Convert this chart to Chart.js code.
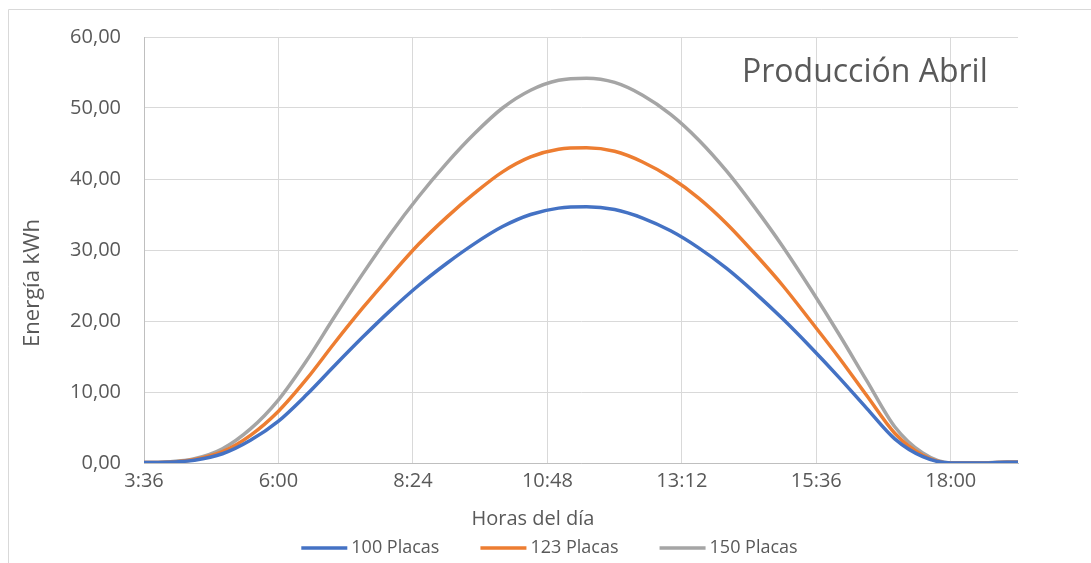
<!DOCTYPE html>
<html lang="es">
<head>
<meta charset="utf-8">
<title>Producción Abril</title>
<script src="https://cdn.jsdelivr.net/npm/chart.js@4.4.1/dist/chart.umd.min.js"></script>
<style>
    html, body { margin: 0; padding: 0; background: #ffffff; }
    #wrap { position: relative; width: 1091px; height: 563px; overflow: hidden; }
</style>
</head>
<body>
<div id="wrap"><canvas id="grafico" width="1091" height="563"></canvas></div>
<script>
// datos (energía kWh cada media hora)
const horas = ['3:00', '3:30', '4:00', '4:30', '5:00', '5:30', '6:00', '6:30', '7:00', '7:30',
    '8:00', '8:30', '9:00', '9:30', '10:00', '10:30', '11:00', '11:30', '12:00', '12:30',
    '13:00', '13:30', '14:00', '14:30', '15:00', '15:30', '16:00', '16:30', '17:00', '17:30',
    '18:00', '18:30', '19:00', '19:30', '20:00'];
const placas100 = [0, 0.05, 0.1, 0.4, 1.3, 3.2, 5.9, 9.6, 13.7, 17.7,
    21.5, 25.0, 28.1, 30.9, 33.3, 35.0, 35.9, 36.1, 35.7, 34.5,
    32.7, 30.3, 27.4, 24.0, 20.3, 16.3, 12.1, 7.7, 3.4, 0.9,
    0, 0, 0.1, 0.1, 0.1];
const placas123 = [0, 0.05, 0.1, 0.5, 1.6, 3.9, 7.3, 11.8, 16.9, 21.8,
    26.4, 30.8, 34.6, 38.0, 41.0, 43.1, 44.2, 44.4, 43.9, 42.4,
    40.2, 37.3, 33.7, 29.5, 25.0, 20.0, 14.9, 9.5, 4.2, 1.1,
    0, 0, 0.1, 0.1, 0.1];
const placas150 = [0, 0.05, 0.15, 0.6, 2.0, 4.8, 8.9, 14.4, 20.6, 26.6,
    32.3, 37.5, 42.2, 46.4, 50.0, 52.5, 53.9, 54.2, 53.6, 51.8,
    49.1, 45.5, 41.1, 36.0, 30.5, 24.5, 18.2, 11.6, 5.1, 1.4,
    0, 0, 0.15, 0.15, 0.15];
const etiquetasX = ['3:36', '6:00', '8:24', '10:48', '13:12', '15:36', '18:00'];
const limitesX = ['3:36', '19:12'];
const nombresSeries = ['100 Placas', '123 Placas', '150 Placas'];
const colores = ['#4472C4', '#ED7D31', '#A5A5A5'];

const FUENTE = "'Open Sans', 'Noto Sans', sans-serif";
const GRIS_TEXTO = '#595959';

// "h:mm" -> minutos
function aMinutos(txt) {
    const [h, m] = txt.split(':').map(Number);
    return h * 60 + m;
}
function aHora(min) {
    const h = Math.floor(min / 60);
    const m = Math.round(min % 60);
    return h + ':' + String(m).padStart(2, '0');
}

function puntos(valores) {
    return horas.map((h, i) => ({ x: aMinutos(h), y: valores[i] }));
}

// textos fijos: marco, título, títulos de ejes y leyenda
const decoracion = {
    id: 'decoracion',
    beforeDraw(chart) {
        const ctx = chart.ctx;
        ctx.save();
        ctx.strokeStyle = '#d9d9d9';
        ctx.lineWidth = 1;
        ctx.beginPath();
        ctx.moveTo(8.5, 600);
        ctx.lineTo(8.5, 9.5);
        ctx.lineTo(1200, 9.5);
        ctx.stroke();
        ctx.restore();
    },
    afterDraw(chart) {
        const ctx = chart.ctx;
        ctx.save();
        ctx.fillStyle = GRIS_TEXTO;

        // título dentro del área de trazado
        ctx.font = '32px ' + FUENTE;
        ctx.textAlign = 'left';
        ctx.textBaseline = 'alphabetic';
        ctx.fillText('Producción Abril', 742, 82);

        // título eje X
        ctx.font = '20px ' + FUENTE;
        ctx.textAlign = 'center';
        ctx.textBaseline = 'middle';
        ctx.fillText('Horas del día', 533, 519);

        // título eje Y
        ctx.save();
        ctx.translate(33, 283);
        ctx.rotate(-Math.PI / 2);
        ctx.font = '22px ' + FUENTE;
        ctx.fillText('Energía kWh', 0, 0);
        ctx.restore();

        // leyenda
        ctx.font = '18px ' + FUENTE;
        ctx.textAlign = 'left';
        const largo = 46, sep = 4, hueco = 41, yLey = 548;
        const anchos = chart.data.datasets.map(d => largo + sep + ctx.measureText(d.label).width);
        const total = anchos.reduce((a, b) => a + b, 0) + hueco * (anchos.length - 1);
        let x = chart.width / 2 - total / 2 + 4;
        chart.data.datasets.forEach((d, i) => {
            ctx.strokeStyle = d.borderColor;
            ctx.lineWidth = 3.5;
            ctx.beginPath();
            ctx.moveTo(x, yLey);
            ctx.lineTo(x + largo, yLey);
            ctx.stroke();
            ctx.fillText(d.label, x + largo + sep, yLey);
            x += anchos[i] + hueco;
        });
        ctx.restore();
    }
};

const series = [placas100, placas123, placas150];

new Chart(document.getElementById('grafico'), {
    type: 'line',
    data: {
        datasets: series.map((valores, i) => ({
            label: nombresSeries[i],
            data: puntos(valores),
            borderColor: colores[i],
            backgroundColor: colores[i],
            borderWidth: 3.5,
            pointRadius: 0,
            cubicInterpolationMode: 'monotone',
            fill: false
        }))
    },
    options: {
        responsive: false,
        animation: false,
        layout: { padding: { left: 0, right: 73, top: 37, bottom: 60 } },
        plugins: {
            legend: { display: false },
            title: { display: false },
            tooltip: { enabled: false }
        },
        scales: {
            x: {
                type: 'linear',
                min: aMinutos(limitesX[0]),
                max: aMinutos(limitesX[1]),
                afterBuildTicks(scale) {
                    scale.ticks = etiquetasX.map(t => ({ value: aMinutos(t) }));
                },
                afterFit(scale) { scale.height = 40; },
                grid: { color: '#d9d9d9', lineWidth: 1, drawTicks: false },
                border: { color: '#bfbfbf', width: 1 },
                ticks: {
                    padding: 6,
                    color: GRIS_TEXTO,
                    font: { family: FUENTE, size: 20 },
                    maxRotation: 0,
                    autoSkip: false,
                    callback: v => aHora(v)
                }
            },
            y: {
                min: 0,
                max: 60,
                afterFit(scale) { scale.width = 144; },
                grid: { color: '#d9d9d9', lineWidth: 1, drawTicks: false },
                border: { color: '#bfbfbf', width: 1 },
                ticks: {
                    stepSize: 10,
                    padding: 23,
                    color: GRIS_TEXTO,
                    font: { family: FUENTE, size: 20 },
                    callback: v => v.toFixed(2).replace('.', ',')
                }
            }
        }
    },
    plugins: [decoracion]
});
</script>
</body>
</html>
